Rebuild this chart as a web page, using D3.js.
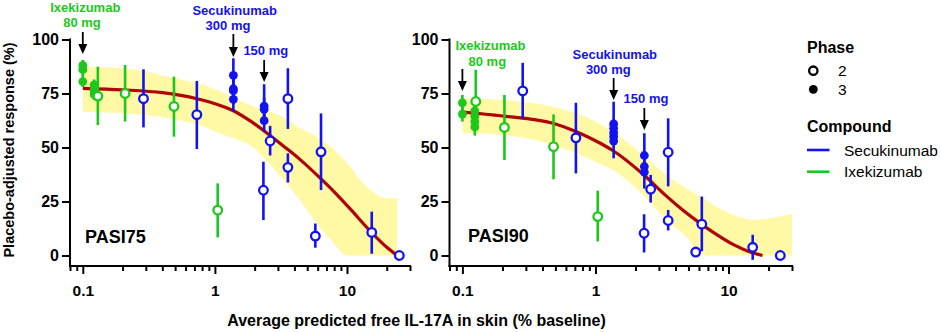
<!DOCTYPE html>
<html>
<head>
<meta charset="utf-8">
<script src="https://cdn.jsdelivr.net/npm/d3@7"></script>
<style>
  html, body { margin: 0; padding: 0; background: #fff; }
  svg { display: block; font-family: "Liberation Sans", Arial, Helvetica, sans-serif; }
</style>
</head>
<body>
<svg id="chart" width="941" height="332"></svg>
<script>
// ---------------- DATA ----------------
const compounds = ["Secukinumab", "Ixekizumab"];
const phases = ["2", "3"];
const yTicks = [0, 25, 50, 75, 100];
const xMajorTicks = [0.1, 1, 10];
const xMinorTicks = [0.08, 0.09, 0.2, 0.3, 0.4, 0.5, 0.6, 0.7, 0.8, 0.9, 2, 3, 4, 5, 6, 7, 8, 9, 20, 30];
const panelLabels = ["PASI75", "PASI90"];

// [compound, phase, x (% baseline), response, lower, upper]
const pasi75Points = [
  ["Ixekizumab", 3, 0.1, 88, 85, 90.5],
  ["Ixekizumab", 3, 0.1, 86, 83, 89],
  ["Ixekizumab", 3, 0.1, 80.5, 78, 83.5],
  ["Ixekizumab", 3, 0.122, 79, 76, 81.5],
  ["Ixekizumab", 3, 0.122, 77.5, 75, 80],
  ["Ixekizumab", 3, 0.122, 76, 73.5, 78.5],
  ["Ixekizumab", 3, 0.122, 74.5, 72, 77],
  ["Ixekizumab", 2, 0.13, 73.8, 60.4, 87.4],
  ["Ixekizumab", 2, 0.209, 75, 62, 88.2],
  ["Secukinumab", 2, 0.288, 72.6, 59.3, 86.2],
  ["Ixekizumab", 2, 0.49, 69, 55, 82.8],
  ["Secukinumab", 2, 0.73, 65.2, 49.3, 80.8],
  ["Ixekizumab", 2, 1.05, 21, 8.4, 33.4],
  ["Secukinumab", 3, 1.38, 83.4, 75, 91.3],
  ["Secukinumab", 3, 1.38, 77.2, 72, 82],
  ["Secukinumab", 3, 1.38, 76.3, 70, 80],
  ["Secukinumab", 3, 1.38, 72.3, 66.6, 76],
  ["Secukinumab", 3, 2.36, 69.2, 62, 79.3],
  ["Secukinumab", 3, 2.36, 67.7, 62, 73],
  ["Secukinumab", 3, 2.36, 62.4, 57.3, 67],
  ["Secukinumab", 2, 2.33, 30.2, 16.4, 43.4],
  ["Secukinumab", 2, 2.62, 53, 46.3, 60],
  ["Secukinumab", 2, 3.57, 72.6, 58.6, 86.7],
  ["Secukinumab", 2, 3.57, 40.8, 33.8, 47.3],
  ["Secukinumab", 2, 5.76, 9, 3.6, 14.8],
  ["Secukinumab", 2, 6.36, 48, 30.3, 65.8],
  ["Secukinumab", 2, 15.4, 10.7, 0.8, 20.3],
  ["Secukinumab", 2, 24.9, 0, null, null]
];

const pasi90Points = [
  ["Ixekizumab", 3, 0.1, 70.7, 67, 74.3],
  ["Ixekizumab", 3, 0.1, 65.5, 62, 69],
  ["Ixekizumab", 2, 0.126, 71.3, 58, 86],
  ["Ixekizumab", 3, 0.124, 67, 64, 70],
  ["Ixekizumab", 3, 0.124, 64.5, 61, 68],
  ["Ixekizumab", 3, 0.124, 62, 58.5, 65],
  ["Ixekizumab", 3, 0.124, 59.5, 55.5, 63],
  ["Ixekizumab", 2, 0.207, 59.3, 44.2, 74.3],
  ["Secukinumab", 2, 0.284, 76.2, 63.5, 89.2],
  ["Ixekizumab", 2, 0.484, 50.4, 35.3, 65.3],
  ["Secukinumab", 2, 0.713, 54.5, 38, 70.7],
  ["Ixekizumab", 2, 1.04, 18, 6.5, 30],
  ["Secukinumab", 3, 1.37, 60.9, 56, 71.2],
  ["Secukinumab", 3, 1.37, 58.9, 55, 63],
  ["Secukinumab", 3, 1.37, 56.8, 53, 61],
  ["Secukinumab", 3, 1.37, 55, 51, 59],
  ["Secukinumab", 3, 1.37, 53, 45, 57],
  ["Secukinumab", 3, 2.33, 46.3, 40, 56.6],
  ["Secukinumab", 3, 2.33, 41.2, 36, 46],
  ["Secukinumab", 3, 2.33, 38.6, 31, 43],
  ["Secukinumab", 2, 2.32, 10.3, 1.4, 19.1],
  ["Secukinumab", 2, 2.6, 30.7, 24.5, 37.3],
  ["Secukinumab", 2, 3.52, 47.8, 32, 63.5],
  ["Secukinumab", 2, 3.52, 16.2, 11.6, 21.1],
  ["Secukinumab", 2, 5.67, 1.6, null, null],
  ["Secukinumab", 2, 6.3, 14.5, 2, 27.3],
  ["Secukinumab", 2, 15.2, 3.8, -2, 9.6],
  ["Secukinumab", 2, 24.5, 0, null, null]
];

// model fit curves and confidence band edges [x, response]
const pasi75Curve = [[0.1,77.4],[0.2,76.7],[0.4,75.4],[0.73,72.6],[1.0,70.3],[1.38,67],[1.85,62.3],[2.5,56.5],[3.3,50.7],[4.4,44.5],[6.3,35.7],[8,29.5],[10.5,21.8],[15,11.3],[20,3.8],[24,0]];
const pasi75Upper = [[0.1,87.5],[0.25,86],[0.46,82.5],[0.8,79],[1.1,76],[1.5,72],[1.85,69.7],[2.6,66.5],[3.3,64],[4.4,59],[5.9,55],[8,48.8],[10.6,41],[13.3,33.4],[17,28],[20,26.5],[24,26.5]];
const pasi75Lower = [[0.1,66.5],[0.3,65],[0.5,63],[0.8,60],[1.1,56.5],[1.5,53.5],[1.85,51],[2.5,43.5],[3.3,35],[4.4,25.7],[5.9,14.9],[7.95,5.6],[10,0],[24,0]];

const pasi90Curve = [[0.1,66.4],[0.2,64.6],[0.48,61.2],[0.72,57.3],[1.07,52.2],[1.35,48.6],[2.28,37.6],[3.4,27.6],[4.5,21.2],[6.1,15],[8,10],[10.9,5],[14,2],[18,0]];
const pasi90Upper = [[0.1,72.7],[0.2,72],[0.48,68.9],[0.72,65.8],[1.07,61],[1.35,57.5],[2.28,46.5],[3.4,37.3],[6.1,27.3],[10.9,18.8],[16.4,16.5],[22,17.5],[30,19.3]];
const pasi90Lower = [[0.1,56.8],[0.2,55.8],[0.48,51.2],[0.72,47.3],[1.07,42.5],[1.35,39.6],[2.28,28],[3.4,16.5],[4.8,8.8],[6.1,1.5],[6.9,0],[30,0]];

// annotations: [label lines, colour key, x value of arrow]
const pasi75Annot = [
  [["Ixekizumab", "80 mg"], "Ixekizumab", 0.1],
  [["Secukinumab", "300 mg"], "Secukinumab", 1.38],
  [["150 mg"], "Secukinumab", 2.36]
];
const pasi90Annot = [
  [["Ixekizumab", "80 mg"], "Ixekizumab", 0.1],
  [["Secukinumab", "300 mg"], "Secukinumab", 1.37],
  [["150 mg"], "Secukinumab", 2.33]
];

// ---------------- STYLE / LAYOUT ----------------
const colors = { Secukinumab: "#1212f2", Ixekizumab: "#1cc81c" };
const curveColor = "#b00404";
const bandColor = "#fff8a4";

const svg = d3.select("#chart");

const panels = [
  { label: panelLabels[0], pts: pasi75Points, curve: pasi75Curve, up: pasi75Upper, lo: pasi75Lower, annot: pasi75Annot,
    x0: 70, x1: 410, labelX: 85, labelY: 243,
    annotPos: [ {tx: [85.3, 82], ty: [12, 27], a0: 32, a1: 54},
                {tx: [234.7, 228], ty: [15, 30], a0: 34, a1: 57},
                {tx: [265.8], ty: [55], a0: 60, a1: 82} ] },
  { label: panelLabels[1], pts: pasi90Points, curve: pasi90Curve, up: pasi90Upper, lo: pasi90Lower, annot: pasi90Annot,
    x0: 449.5, x1: 792, labelX: 468, labelY: 242,
    annotPos: [ {tx: [490.5, 487.3], ty: [50, 65.5], a0: 69, a1: 91},
                {tx: [614.8, 608.3], ty: [58.5, 74], a0: 78, a1: 100},
                {tx: [646], ty: [103.3], a0: 108, a1: 130} ] }
];

const yTop = 39.5, yBottom = 255.5, xAxisY = 266;

panels.forEach(p => {
  const x = d3.scaleLog().domain([0.08, 30]).range([p.x0, p.x1]);
  const y = d3.scaleLinear().domain([0, 100]).range([yBottom, yTop]);
  const g = svg.append("g");

  // confidence band
  const ln = d3.line().x(d => x(d[0])).y(d => y(d[1])).curve(d3.curveMonotoneX);
  const upPath = ln(p.up);
  const loPath = ln(p.lo.slice().reverse());
  g.append("path")
    .attr("d", upPath + "L" + loPath.slice(1) + "Z")
    .attr("fill", bandColor)
    .attr("stroke", "none");

  // fit curve
  g.append("path")
    .attr("d", ln(p.curve))
    .attr("fill", "none")
    .attr("stroke", curveColor)
    .attr("stroke-width", 3.2)
    .attr("stroke-linecap", "butt");

  // error bars
  g.selectAll("line.err").data(p.pts.filter(d => d[4] !== null)).join("line")
    .attr("class", "err")
    .attr("x1", d => x(d[2])).attr("x2", d => x(d[2]))
    .attr("y1", d => y(d[4])).attr("y2", d => y(d[5]))
    .attr("stroke", d => colors[d[0]])
    .attr("stroke-width", 2.6);

  // points
  g.selectAll("circle.pt").data(p.pts).join("circle")
    .attr("class", "pt")
    .attr("cx", d => x(d[2])).attr("cy", d => y(d[3]))
    .attr("r", d => d[1] === 3 ? 4.4 : 4.3)
    .attr("fill", d => d[1] === 3 ? colors[d[0]] : "#fff")
    .attr("stroke", d => colors[d[0]])
    .attr("stroke-width", d => d[1] === 3 ? 0 : 2.3);

  // axes
  const yAxis = d3.axisLeft(y).tickValues(yTicks).tickSize(8).tickPadding(3);
  const ya = g.append("g").attr("transform", `translate(${p.x0},0)`).call(yAxis);
  ya.select(".domain").remove();
  ya.selectAll(".tick line").attr("stroke", "#000").attr("stroke-width", 2);
  ya.selectAll(".tick text")
    .attr("font-size", 16).attr("font-weight", "bold").attr("fill", "#000")
    .attr("font-family", "Liberation Sans, Arial, sans-serif");
  g.append("line").attr("x1", p.x0).attr("x2", p.x0).attr("y1", yTop - 1).attr("y2", xAxisY + 1)
    .attr("stroke", "#000").attr("stroke-width", 2);

  const xAxis = d3.axisBottom(x).tickValues(xMajorTicks).tickSize(8).tickPadding(11)
    .tickFormat(d => d3.format("~g")(d));
  const xa = g.append("g").attr("transform", `translate(0,${xAxisY})`).call(xAxis);
  xa.select(".domain").remove();
  xa.selectAll(".tick line").attr("stroke", "#000").attr("stroke-width", 2);
  xa.selectAll(".tick text")
    .attr("font-size", 15.5).attr("font-weight", "bold").attr("fill", "#000")
    .attr("font-family", "Liberation Sans, Arial, sans-serif");
  const xm = d3.axisBottom(x).tickValues(xMinorTicks).tickSize(5).tickFormat("");
  const xma = g.append("g").attr("transform", `translate(0,${xAxisY})`).call(xm);
  xma.select(".domain").remove();
  xma.selectAll(".tick line").attr("stroke", "#000").attr("stroke-width", 2);
  g.append("line").attr("x1", p.x0 - 1).attr("x2", p.x1 + 1).attr("y1", xAxisY).attr("y2", xAxisY)
    .attr("stroke", "#000").attr("stroke-width", 2);

  // panel label
  g.append("text").attr("x", p.labelX).attr("y", p.labelY)
    .attr("font-size", 18).attr("font-weight", "bold").attr("fill", "#000")
    .text(p.label);

  // annotations
  p.annot.forEach((a, i) => {
    const pos = p.annotPos[i];
    a[0].forEach((t, j) => {
      g.append("text").attr("x", pos.tx[j]).attr("y", pos.ty[j])
        .attr("text-anchor", "middle").attr("font-size", 13).attr("font-weight", "bold")
        .attr("fill", colors[a[1]]).text(t);
    });
    const ax = x(a[2]);
    g.append("line").attr("x1", ax).attr("x2", ax).attr("y1", pos.a0).attr("y2", pos.a1 - 8)
      .attr("stroke", "#000").attr("stroke-width", 1.8);
    g.append("path")
      .attr("d", `M${ax - 4.5},${pos.a1 - 10}L${ax + 4.5},${pos.a1 - 10}L${ax},${pos.a1}Z`)
      .attr("fill", "#000");
  });
});

// axis titles
svg.append("text").attr("x", 416.5).attr("y", 326)
  .attr("text-anchor", "middle").attr("font-size", 16).attr("font-weight", "bold").attr("fill", "#000")
  .text("Average predicted free IL-17A in skin (% baseline)");
svg.append("text").attr("transform", "translate(14,150) rotate(-90)")
  .attr("text-anchor", "middle").attr("font-size", 14.5).attr("font-weight", "bold").attr("fill", "#000")
  .text("Placebo-adjusted response (%)");

// legend
const lg = svg.append("g");
lg.append("text").attr("x", 807).attr("y", 53).attr("font-size", 16).attr("font-weight", "bold").text("Phase");
phases.forEach((ph, i) => {
  const cy = 70.7 + i * 18.6;
  lg.append("circle").attr("cx", 813.3).attr("cy", cy).attr("r", ph === "3" ? 4.4 : 4.2)
    .attr("fill", ph === "3" ? "#000" : "#fff").attr("stroke", "#000").attr("stroke-width", ph === "3" ? 0 : 2.3);
  lg.append("text").attr("x", 838).attr("y", cy + 5.5).attr("font-size", 15.5).text(ph);
});
lg.append("text").attr("x", 807).attr("y", 131.5).attr("font-size", 16).attr("font-weight", "bold").text("Compound");
compounds.forEach((c, i) => {
  const cy = 150 + i * 21.7;
  lg.append("line").attr("x1", 807).attr("x2", 829.5).attr("y1", cy).attr("y2", cy)
    .attr("stroke", colors[c]).attr("stroke-width", 2.6);
  lg.append("text").attr("x", 844).attr("y", cy + 5.5).attr("font-size", 15.5).text(c);
});
</script>
</body>
</html>
